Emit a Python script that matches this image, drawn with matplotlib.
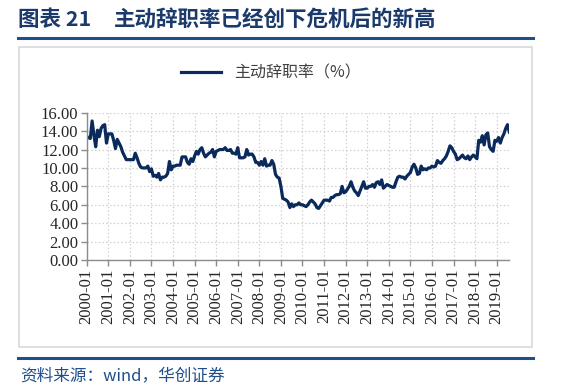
import matplotlib
matplotlib.use("Agg")
import matplotlib.pyplot as plt
from matplotlib.lines import Line2D
from matplotlib.patches import Rectangle

plt.rcParams['font.family'] = ['Noto Sans CJK SC', 'DejaVu Sans']

# 主动辞职率（%），月度，2000-01 至 2019-08
quit_2000 = [13.4, 13.3, 13.2, 15.1, 13.6, 12.3, 14.1, 13.4, 14.3, 14.6, 14.7, 12.7]
quit_2001 = [13.7, 13.7, 13.7, 13.0, 12.1, 13.1, 12.7, 12.3, 11.7, 11.3, 10.9, 10.9]
quit_2002 = [10.9, 10.9, 10.9, 11.6, 11.1, 10.5, 10.1, 10.0, 10.0, 10.0, 10.2, 9.6]
quit_2003 = [9.9, 9.1, 9.2, 9.0, 9.4, 8.7, 9.0, 9.0, 9.1, 9.4, 10.7, 9.8]
quit_2004 = [10.2, 10.2, 10.3, 10.3, 10.3, 11.2, 11.2, 11.2, 10.6, 10.4, 11.0, 10.7]
quit_2005 = [11.3, 11.8, 11.5, 12.0, 12.2, 11.6, 11.2, 11.4, 11.6, 11.7, 12.0, 11.2]
quit_2006 = [11.8, 11.9, 12.0, 12.0, 12.0, 12.2, 11.9, 11.9, 12.0, 11.6, 11.6, 11.5]
quit_2007 = [12.2, 11.1, 11.1, 11.1, 11.2, 12.0, 11.4, 11.5, 11.5, 11.2, 10.6, 10.6]
quit_2008 = [10.3, 10.7, 10.3, 11.0, 10.2, 10.3, 10.3, 10.8, 10.4, 9.3, 9.0, 8.9]
quit_2009 = [8.0, 6.7, 6.6, 6.5, 6.3, 5.7, 6.1, 5.8, 6.0, 6.0, 6.2, 6.0]
quit_2010 = [6.0, 5.9, 5.8, 6.0, 6.3, 6.5, 6.3, 6.1, 5.7, 5.6, 5.9, 6.2]
quit_2011 = [6.5, 6.5, 6.5, 6.4, 6.8, 6.8, 7.0, 7.1, 7.1, 7.2, 8.0, 7.3]
quit_2012 = [7.4, 7.7, 8.0, 8.5, 7.9, 7.5, 7.3, 7.0, 7.5, 8.0, 8.5, 7.8]
quit_2013 = [7.8, 8.0, 8.0, 8.2, 7.9, 8.4, 8.5, 8.2, 8.7, 7.8, 8.0, 8.2]
quit_2014 = [8.1, 8.0, 7.9, 7.9, 8.5, 9.0, 9.1, 9.0, 9.0, 8.8, 9.1, 9.3]
quit_2015 = [9.5, 10.1, 10.4, 10.0, 9.3, 9.4, 10.2, 9.8, 9.9, 9.8, 10.0, 10.0]
quit_2016 = [10.2, 10.1, 10.2, 10.8, 10.6, 10.5, 10.8, 11.0, 11.3, 11.8, 12.4, 12.2]
quit_2017 = [11.8, 11.5, 10.9, 11.0, 11.2, 11.4, 11.1, 11.0, 11.3, 10.9, 11.2, 11.4]
quit_2018 = [11.2, 11.0, 13.0, 12.8, 13.5, 12.5, 13.6, 13.8, 12.3, 12.0, 11.8, 13.0]
quit_2019 = [12.9, 13.3, 12.7, 13.3, 13.7, 14.3, 14.7, 13.9]

values = (quit_2000 + quit_2001 + quit_2002 + quit_2003 + quit_2004 + quit_2005
          + quit_2006 + quit_2007 + quit_2008 + quit_2009 + quit_2010 + quit_2011
          + quit_2012 + quit_2013 + quit_2014 + quit_2015 + quit_2016 + quit_2017
          + quit_2018 + quit_2019)
years = list(range(2000, 2020))
tick_labels = [f"{y}-01" for y in years]
y_ticks = [0, 2, 4, 6, 8, 10, 12, 14, 16]

navy = "#0B2A5C"
blue = "#1F4E8C"

fig = plt.figure(figsize=(5.61, 3.90), dpi=100)
fig.patch.set_facecolor("white")

# 标题与分隔线
fig.text(18 / 561, 1 - 20 / 390, "图表 21", fontsize=15.5, fontweight="bold",
         color="#1B3A6B", va="center", ha="left")
fig.text(114 / 561, 1 - 20 / 390, "主动辞职率已经创下危机后的新高",
         fontsize=15.5, fontweight="bold", color="#1B3A6B", va="center", ha="left")
fig.add_artist(Line2D([18 / 561, 533 / 561], [1 - 38 / 390, 1 - 38 / 390],
                      color=blue, lw=2.2, transform=fig.transFigure))
fig.add_artist(Rectangle((18.5 / 561, 1 - 347 / 390), (532 - 18.5) / 561, (347 - 47) / 390,
                         transform=fig.transFigure, fill=False,
                         edgecolor="#D9D9D9", lw=1.2))
fig.add_artist(Line2D([18 / 561, 533 / 561], [1 - 358 / 390, 1 - 358 / 390],
                      color=blue, lw=2.2, transform=fig.transFigure))
fig.text(20 / 561, 1 - 376 / 390, "资料来源：wind，华创证券",
         fontsize=12, color=blue, va="center", ha="left", style="italic")

ax = fig.add_axes([86.7 / 561, 1 - 260 / 390, (509.3 - 86.7) / 561, (260 - 112.7) / 390])
x = list(range(len(values)))
ax.plot(x, values, color=navy, lw=2.3, label="主动辞职率（%）", solid_joinstyle="round")

ax.set_xlim(0, len(values) - 1)
ax.set_ylim(0, 16)
ax.set_yticks(y_ticks)
ax.set_yticklabels([f"{v:.2f}" for v in y_ticks], family=["Liberation Serif"],
                   fontsize=12, color="#262626")
ax.set_xticks([12 * i for i in range(len(years))])
ax.set_xticklabels(tick_labels, rotation=90, family=["Liberation Serif"],
                   fontsize=12, color="#262626")

ax.grid(True, color="#D0D0D0", linestyle=(0, (1.2, 1.8)), lw=0.9)
ax.set_axisbelow(True)
for s in ("top", "right"):
    ax.spines[s].set_visible(False)
for s in ("left", "bottom"):
    ax.spines[s].set_color("#8C8C8C")
    ax.spines[s].set_linewidth(1.0)
ax.tick_params(axis="both", colors="#8C8C8C", length=4, width=1.0, pad=2)
ax.tick_params(axis="both", labelcolor="#262626")

leg = ax.legend(loc="center", bbox_to_anchor=(271 / 561, 1 - 73 / 390),
                bbox_transform=fig.transFigure, frameon=False,
                handlelength=2.5, fontsize=11.5)
for t in leg.get_texts():
    t.set_color("#404040")

fig.savefig("out.png", dpi=100, facecolor="white")
